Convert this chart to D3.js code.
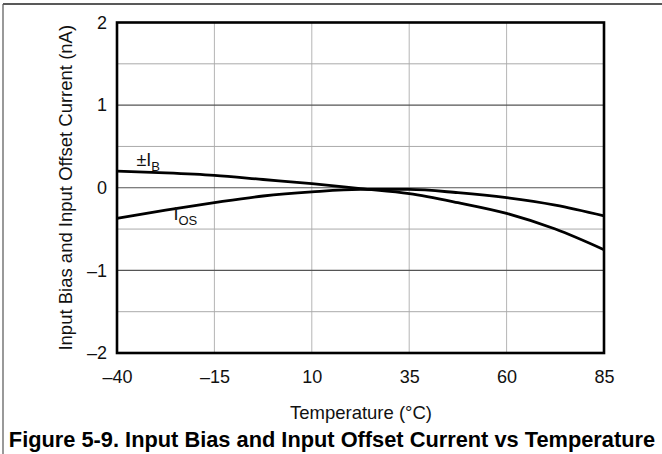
<!DOCTYPE html>
<html>
<head>
<meta charset="utf-8">
<script src="https://cdn.jsdelivr.net/npm/d3@7"></script>
<style>
  body { margin: 0; background: #fff; }
  svg { display: block; font-family: "Liberation Sans", Arial, sans-serif; }
</style>
</head>
<body>
<svg width="662" height="454"></svg>
<script>
// values
var temps = [-40, -27.5, -15, -2.5, 10, 22.5, 35, 47.5, 60, 72.5, 85];
var ibVals = [0.2, 0.18, 0.15, 0.1, 0.05, -0.01, -0.07, -0.18, -0.31, -0.5, -0.75];
var iosVals = [-0.37, -0.27, -0.18, -0.1, -0.05, -0.02, -0.02, -0.06, -0.12, -0.21, -0.34];
var xTicks = [-40, -15, 10, 35, 60, 85];
var yTicks = [-2, -1, 0, 1, 2];
var yGrid = [-1.5, -0.5, 0.5, 1.5];

var svg = d3.select('svg');
// plot box (note: "top" is taken by window.top)
var pL = 117, pR = 604, pT = 22.5, pB = 353;

var x = d3.scaleLinear().domain([-40, 85]).range([pL, pR]);
var y = d3.scaleLinear().domain([-2, 2]).range([pB, pT]);

// page frame lines
svg.append('line').attr('x1', 3).attr('x2', 662).attr('y1', 4).attr('y2', 4)
  .attr('stroke', '#222').attr('stroke-width', 1.5);
svg.append('line').attr('x1', 3).attr('x2', 3).attr('y1', 4).attr('y2', 454)
  .attr('stroke', '#555').attr('stroke-width', 1.2);

// grid
svg.append('g').selectAll('line').data(xTicks).enter().append('line')
  .attr('x1', d => x(d)).attr('x2', d => x(d)).attr('y1', pT).attr('y2', pB)
  .attr('stroke', '#b5b5b5').attr('stroke-width', 1);
svg.append('g').selectAll('line').data(yGrid).enter().append('line')
  .attr('x1', pL).attr('x2', pR).attr('y1', d => y(d)).attr('y2', d => y(d))
  .attr('stroke', '#aaa').attr('stroke-width', 1);
svg.append('g').selectAll('line').data(yTicks).enter().append('line')
  .attr('x1', pL).attr('x2', pR).attr('y1', d => y(d)).attr('y2', d => y(d))
  .attr('stroke', '#555').attr('stroke-width', 1.2);

// axes (labels only, frame drawn below)
svg.append('g').attr('transform', 'translate(0,' + pB + ')')
  .call(d3.axisBottom(x).tickValues(xTicks).tickSize(0).tickPadding(17)
    .tickFormat(d => String(d).replace('-', '\u2013')));
svg.append('g').attr('transform', 'translate(' + pL + ',0)')
  .call(d3.axisLeft(y).tickValues(yTicks).tickSize(0).tickPadding(10)
    .tickFormat(d => String(d).replace('-', '\u2013')));
svg.selectAll('.domain').remove();
svg.selectAll('.tick text').attr('font-size', 18).attr('fill', '#111')
  .attr('font-family', '"Liberation Sans", Arial, sans-serif');

// curves
var line = d3.line().x(d => x(d[0])).y(d => y(d[1])).curve(d3.curveMonotoneX);
svg.append('path').datum(d3.zip(temps, ibVals)).attr('d', line)
  .attr('fill', 'none').attr('stroke', '#000').attr('stroke-width', 2.8);
svg.append('path').datum(d3.zip(temps, iosVals)).attr('d', line)
  .attr('fill', 'none').attr('stroke', '#000').attr('stroke-width', 2.8);

// plot frame
svg.append('rect').attr('x', pL).attr('y', pT).attr('width', pR - pL).attr('height', pB - pT)
  .attr('fill', 'none').attr('stroke', '#000').attr('stroke-width', 2.6);

// curve labels
var lb = svg.append('text').attr('x', x(-35)).attr('y', 166).attr('font-size', 18).attr('fill', '#111');
lb.append('tspan').text('\u00b1I');
lb.append('tspan').attr('dy', 5).attr('font-size', 13).text('B');
var lo = svg.append('text').attr('x', x(-25.5)).attr('y', 220).attr('font-size', 18).attr('fill', '#111');
lo.append('tspan').text('I');
lo.append('tspan').attr('dy', 5).attr('font-size', 13).text('OS');

// titles
svg.append('text').attr('x', 361).attr('y', 419).attr('text-anchor', 'middle')
  .attr('font-size', 18.5).attr('fill', '#111').text('Temperature (\u00b0C)');
svg.append('text').attr('transform', 'translate(72,' + ((pT + pB) / 2) + ') rotate(-90)')
  .attr('text-anchor', 'middle').attr('font-size', 18.5).attr('fill', '#111')
  .text('Input Bias and Input Offset Current (nA)');
svg.append('text').attr('x', 332).attr('y', 447).attr('text-anchor', 'middle')
  .attr('font-size', 21.8).attr('font-weight', 'bold').attr('fill', '#000')
  .text('Figure 5-9. Input Bias and Input Offset Current vs Temperature');
</script>
</body>
</html>
